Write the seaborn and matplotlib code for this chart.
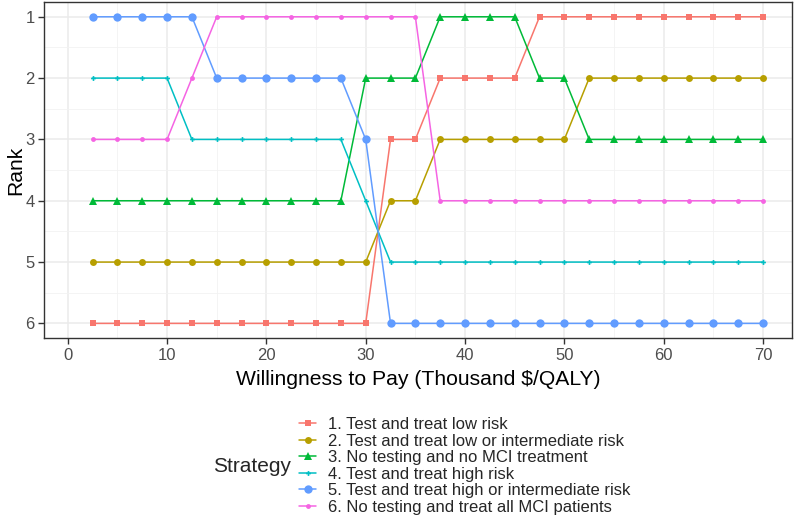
import numpy as np
import pandas as pd
import seaborn as sns
import matplotlib
matplotlib.use("Agg")
import matplotlib.pyplot as plt
from matplotlib.lines import Line2D
from matplotlib.ticker import MultipleLocator

# willingness to pay, thousand $/QALY
wtp = [2.5, 5, 7.5, 10, 12.5, 15, 17.5, 20, 22.5, 25, 27.5, 30, 32.5, 35,
       37.5, 40, 42.5, 45, 47.5, 50, 52.5, 55, 57.5, 60, 62.5, 65, 67.5, 70]

strategies = [
    "1. Test and treat low risk",
    "2. Test and treat low or intermediate risk",
    "3. No testing and no MCI treatment",
    "4. Test and treat high risk",
    "5. Test and treat high or intermediate risk",
    "6. No testing and treat all MCI patients",
]

rank_s1 = [6, 6, 6, 6, 6, 6, 6, 6, 6, 6, 6, 6, 3, 3, 2, 2, 2, 2, 1, 1, 1, 1, 1, 1, 1, 1, 1, 1]
rank_s2 = [5, 5, 5, 5, 5, 5, 5, 5, 5, 5, 5, 5, 4, 4, 3, 3, 3, 3, 3, 3, 2, 2, 2, 2, 2, 2, 2, 2]
rank_s3 = [4, 4, 4, 4, 4, 4, 4, 4, 4, 4, 4, 2, 2, 2, 1, 1, 1, 1, 2, 2, 3, 3, 3, 3, 3, 3, 3, 3]
rank_s4 = [2, 2, 2, 2, 3, 3, 3, 3, 3, 3, 3, 4, 5, 5, 5, 5, 5, 5, 5, 5, 5, 5, 5, 5, 5, 5, 5, 5]
rank_s5 = [1, 1, 1, 1, 1, 2, 2, 2, 2, 2, 2, 3, 6, 6, 6, 6, 6, 6, 6, 6, 6, 6, 6, 6, 6, 6, 6, 6]
rank_s6 = [3, 3, 3, 3, 2, 1, 1, 1, 1, 1, 1, 1, 1, 1, 4, 4, 4, 4, 4, 4, 4, 4, 4, 4, 4, 4, 4, 4]

ranks = [rank_s1, rank_s2, rank_s3, rank_s4, rank_s5, rank_s6]

df = pd.concat([
    pd.DataFrame({"wtp": wtp, "rank": r, "Strategy": s})
    for s, r in zip(strategies, ranks)
])

colores = ["#F8766D", "#B79F00", "#00BA38", "#00BFC4", "#619CFF", "#F564E3"]
marcadores = ["s", "o", "^", "P", "o", "o"]
tamanhos = [5, 5, 6, 3.5, 6, 3.5]

sns.set_theme(style="white")
plt.rcParams["font.family"] = ["Liberation Sans", "DejaVu Sans"]

fig = plt.figure(figsize=(8, 5.17), dpi=100)
ax = fig.add_axes([0.0555, 0.346, 0.935, 0.65])

for s, c, m, ms in zip(strategies, colores, marcadores, tamanhos):
    sns.lineplot(data=df[df["Strategy"] == s], x="wtp", y="rank", color=c,
                 marker=m, markersize=ms, markeredgewidth=0, linewidth=1.1,
                 ax=ax, legend=False)

ax.set_xlim(-2.35, 72.96)
ax.set_ylim(6.24, 0.76)
ax.xaxis.set_major_locator(MultipleLocator(10))
ax.xaxis.set_minor_locator(MultipleLocator(5))
ax.set_yticks([1, 2, 3, 4, 5, 6])
ax.yaxis.set_minor_locator(MultipleLocator(0.5))
ax.grid(True, which="major", color="#EBEBEB", linewidth=1.1)
ax.grid(True, which="minor", color="#F2F2F2", linewidth=0.6)
ax.set_axisbelow(True)
for sp in ax.spines.values():
    sp.set_color("#333333")
    sp.set_linewidth(1.0)
ax.tick_params(axis="both", which="major", length=4, width=1, color="#333333",
               labelsize=12, labelcolor="#4D4D4D", pad=3, bottom=True, left=True)
ax.tick_params(which="minor", length=0)
ax.set_xlabel("Willingness to Pay (Thousand $/QALY)", fontsize=15.2, color="black", labelpad=5)
ax.set_ylabel("Rank", fontsize=15.2, color="black")
ax.yaxis.set_label_coords(-0.025, 0.5)

# legenda embaixo, titulo a esquerda
handles = [Line2D([0], [0], color=c, marker=m, markersize=ms, markeredgewidth=0, linewidth=1.1)
           for c, m, ms in zip(colores, marcadores, tamanhos)]
fig.legend(handles, strategies, loc="center left", bbox_to_anchor=(0.374, 0.099),
           frameon=False, fontsize=12, labelspacing=0.09, handlelength=1.0,
           handletextpad=0.7, borderaxespad=0, borderpad=0)
fig.text(0.266, 0.097, "Strategy", fontsize=15, ha="left", va="center")

fig.savefig("out.png", dpi=100)
